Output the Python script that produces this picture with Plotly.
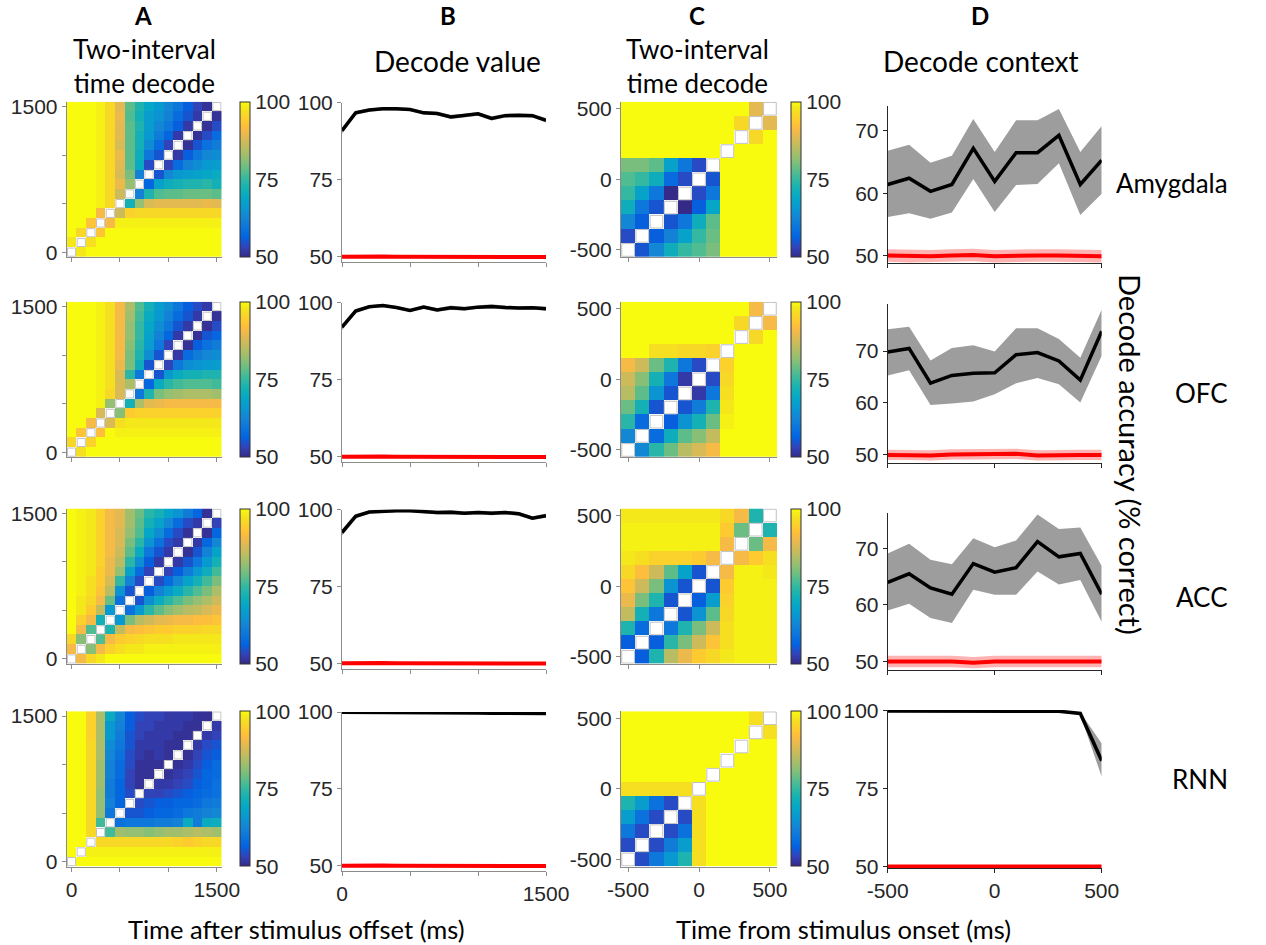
import plotly.graph_objects as go

N = None
W, H = 1266, 945

# ---------------- data ----------------
tA = [0, 100, 200, 300, 400, 500, 600, 700, 800, 900, 1000, 1100, 1200, 1300, 1400, 1500]
tC = [-500, -400, -300, -200, -100, 0, 100, 200, 300, 400, 500]

# Panel A: two-interval time decode after stimulus offset (rows = y time bin from 0 upward)
A_amyg = [
    [N, 98, 100, 100, 100, 100, 100, 100, 100, 100, 100, 100, 100, 100, 100, 100],
    [98, N, 97, 100, 100, 100, 100, 100, 100, 100, 100, 100, 100, 100, 100, 100],
    [100, 96, N, 93, 100, 100, 100, 100, 100, 100, 100, 100, 100, 100, 100, 100],
    [100, 100, 93, N, 91, 99, 99, 99, 99, 99, 99, 99, 99, 99, 99, 99],
    [100, 100, 100, 91, N, 87, 95, 96, 96, 96, 96, 96, 96, 96, 96, 96],
    [100, 100, 100, 99, 96, N, 72, 82, 88, 89, 89, 89, 89, 89, 90, 89],
    [100, 100, 100, 99, 96, 87, N, 62, 73, 77, 78, 78, 79, 79, 79, 78],
    [100, 100, 100, 99, 96, 90, 82, N, 57, 68, 71, 72, 73, 73, 74, 72],
    [100, 100, 100, 99, 96, 88, 80, 62, N, 55, 63, 66, 67, 68, 69, 70],
    [100, 100, 100, 99, 96, 89, 78, 70, 54, N, 53, 58, 62, 64, 66, 67],
    [100, 100, 100, 99, 96, 90, 78, 71, 60, 55, N, 52, 56, 60, 63, 64],
    [100, 100, 100, 99, 96, 88, 78, 72, 64, 58, 53, N, 51, 55, 59, 61],
    [100, 100, 100, 99, 96, 89, 78, 72, 66, 61, 57, 52, N, 51, 54, 58],
    [100, 100, 100, 99, 96, 89, 78, 73, 67, 63, 60, 56, 52, N, 51, 54],
    [100, 100, 100, 99, 96, 90, 77, 72, 67, 65, 62, 58, 55, 52, N, 51],
    [100, 100, 100, 99, 96, 89, 78, 73, 69, 66, 63, 60, 56, 53, 51, N],
]
A_ofc = [
    [N, 97, 100, 100, 100, 100, 100, 100, 100, 100, 100, 100, 100, 100, 100, 100],
    [96, N, 95, 100, 100, 100, 100, 100, 100, 100, 100, 100, 100, 100, 100, 100],
    [100, 93, N, 92, 100, 99, 99, 99, 99, 99, 99, 99, 99, 99, 99, 99],
    [100, 100, 91, N, 88, 97, 98, 98, 98, 98, 98, 98, 98, 98, 98, 98],
    [100, 100, 100, 88, N, 81, 94, 95, 95, 95, 95, 95, 95, 95, 95, 95],
    [100, 100, 100, 99, 82, N, 72, 84, 89, 90, 91, 91, 91, 91, 91, 91],
    [100, 100, 100, 99, 96, 88, N, 60, 73, 80, 82, 83, 84, 84, 84, 83],
    [100, 100, 100, 99, 97, 88, 84, N, 57, 70, 74, 76, 77, 77, 77, 76],
    [100, 100, 100, 99, 97, 88, 74, 60, N, 55, 66, 70, 72, 72, 73, 73],
    [100, 100, 100, 99, 97, 90, 80, 71, 55, N, 53, 60, 64, 65, 66, 67],
    [100, 100, 100, 99, 97, 91, 80, 73, 64, 55, N, 52, 58, 61, 63, 64],
    [100, 100, 100, 99, 97, 91, 81, 74, 67, 60, 53, N, 51, 56, 59, 61],
    [100, 100, 100, 99, 97, 91, 82, 75, 68, 62, 57, 52, N, 51, 55, 57],
    [100, 100, 100, 99, 97, 91, 82, 75, 69, 64, 60, 55, 52, N, 51, 54],
    [100, 100, 100, 99, 97, 91, 83, 76, 70, 66, 62, 58, 55, 52, N, 51],
    [100, 100, 100, 99, 97, 91, 84, 77, 72, 67, 64, 60, 56, 54, 52, N],
]
A_acc = [
    [N, 91, 96, 98, 100, 100, 100, 100, 100, 100, 100, 100, 100, 100, 100, 100],
    [91, N, 81, 91, 95, 97, 98, 98, 99, 99, 99, 99, 99, 99, 99, 99],
    [96, 81, N, 77, 91, 94, 95, 96, 97, 97, 97, 98, 98, 98, 98, 98],
    [100, 91, 77, N, 73, 86, 91, 92, 93, 94, 94, 95, 95, 95, 96, 96],
    [100, 95, 91, 72, N, 66, 80, 85, 87, 89, 90, 91, 91, 92, 92, 93],
    [100, 98, 94, 86, 66, N, 59, 66, 74, 78, 81, 83, 85, 86, 88, 90],
    [100, 98, 96, 91, 79, 59, N, 55, 64, 70, 74, 77, 80, 82, 84, 87],
    [100, 99, 97, 93, 85, 65, 55, N, 56, 62, 66, 70, 74, 77, 80, 84],
    [100, 99, 97, 94, 88, 75, 62, 54, N, 54, 58, 63, 68, 72, 76, 80],
    [100, 99, 98, 94, 90, 82, 68, 58, 53, N, 53, 56, 61, 66, 71, 76],
    [100, 99, 98, 95, 90, 85, 74, 64, 56, 52, N, 52, 55, 60, 66, 72],
    [100, 99, 98, 95, 91, 87, 78, 70, 60, 55, 52, N, 51, 55, 62, 68],
    [100, 99, 98, 95, 91, 88, 80, 74, 65, 59, 54, 52, N, 52, 57, 63],
    [100, 99, 98, 95, 91, 88, 82, 77, 69, 64, 58, 54, 51, N, 51, 57],
    [100, 99, 98, 95, 91, 89, 83, 78, 72, 68, 63, 58, 54, 52, N, 53],
    [100, 99, 98, 95, 91, 89, 83, 79, 74, 72, 68, 65, 61, 57, 51, N],
]
A_rnn = [
    [N, 100, 100, 100, 100, 100, 100, 100, 100, 100, 100, 100, 100, 100, 100, 100],
    [100, N, 99, 99, 99, 99, 99, 99, 99, 99, 99, 99, 99, 99, 99, 99],
    [100, 100, N, 96, 96, 96, 96, 96, 96, 96, 96, 95, 94, 95, 96, 96],
    [100, 100, 96, N, 76, 83, 82, 82, 81, 82, 83, 83, 84, 85, 84, 83],
    [100, 100, 96, 76, N, 59, 60, 60, 60, 61, 61, 62, 70, 61, 70, 71],
    [100, 100, 96, 82, 60, N, 55, 55, 56, 57, 57, 58, 60, 61, 62, 63],
    [100, 100, 96, 82, 62, 57, N, 54, 55, 56, 56, 57, 57, 58, 60, 61],
    [100, 100, 96, 82, 61, 57, 54, N, 53, 53, 54, 55, 56, 57, 58, 59],
    [100, 100, 96, 83, 61, 57, 53, 51, N, 52, 52, 53, 54, 56, 57, 59],
    [100, 100, 96, 83, 62, 58, 53, 51, 51, N, 51, 52, 53, 55, 57, 58],
    [100, 100, 96, 83, 62, 58, 54, 51, 51, 51, N, 51, 52, 54, 56, 58],
    [100, 100, 96, 84, 63, 59, 54, 52, 51, 52, 51, N, 51, 53, 55, 56],
    [100, 100, 96, 84, 64, 60, 55, 52, 52, 52, 51, 51, N, 52, 54, 55],
    [100, 100, 95, 84, 66, 61, 55, 53, 52, 52, 52, 51, 51, N, 52, 53],
    [100, 100, 95, 84, 66, 62, 56, 53, 53, 52, 52, 52, 51, 51, N, 52],
    [100, 100, 95, 84, 70, 63, 56, 54, 53, 53, 52, 52, 52, 51, 51, N],
]

# Panel C: two-interval time decode around stimulus onset
C_amyg = [
    [N, 55, 63, 71, 75, 77, 80, 100, 100, 100, 100],
    [54, N, 56, 62, 68, 75, 79, 100, 100, 100, 100],
    [63, 56, N, 55, 60, 71, 78, 100, 100, 100, 100],
    [71, 60, 55, N, 50, 56, 69, 100, 100, 100, 100],
    [75, 68, 60, 50, N, 54, 60, 100, 100, 100, 100],
    [77, 75, 71, 58, 54, N, 55, 100, 100, 100, 100],
    [80, 80, 78, 68, 60, 54, N, 100, 100, 100, 100],
    [100, 100, 100, 100, 100, 100, 100, N, 100, 100, 100],
    [100, 100, 100, 100, 100, 100, 100, 100, N, 96, 100],
    [100, 100, 100, 100, 100, 100, 100, 100, 96, N, 89],
    [100, 100, 100, 100, 100, 100, 100, 100, 100, 89, N],
]
C_ofc = [
    [N, 63, 74, 79, 85, 88, 91, 100, 100, 100, 100],
    [63, N, 58, 71, 78, 81, 86, 100, 100, 100, 100],
    [74, 58, N, 56, 65, 72, 79, 99, 100, 100, 100],
    [79, 72, 55, N, 55, 61, 73, 98, 100, 100, 100],
    [85, 78, 65, 55, N, 52, 60, 97, 100, 100, 100],
    [87, 81, 72, 60, 52, N, 54, 96, 100, 100, 100],
    [91, 87, 79, 73, 60, 54, N, 95, 100, 100, 100],
    [100, 100, 97, 97, 96, 96, 95, N, 100, 100, 100],
    [100, 100, 100, 100, 100, 100, 100, 100, N, 96, 100],
    [100, 100, 100, 100, 100, 100, 100, 100, 96, N, 91],
    [100, 100, 100, 100, 100, 100, 100, 100, 100, 91, N],
]
C_acc = [
    [N, 56, 73, 85, 90, 94, 96, 98, 99, 99, 99],
    [56, N, 56, 74, 80, 87, 93, 97, 99, 99, 99],
    [73, 58, N, 60, 73, 80, 87, 97, 99, 99, 99],
    [86, 72, 60, N, 55, 65, 78, 96, 99, 99, 99],
    [90, 80, 73, 55, N, 56, 67, 95, 99, 99, 99],
    [93, 87, 80, 65, 55, N, 55, 94, 99, 99, 99],
    [96, 92, 87, 78, 68, 55, N, 91, 99, 99, 98],
    [98, 97, 95, 95, 95, 94, 91, N, 91, 94, 97],
    [99, 99, 99, 99, 99, 99, 99, 91, N, 79, 91],
    [99, 99, 99, 99, 99, 99, 99, 94, 79, N, 73],
    [98, 98, 98, 98, 98, 98, 98, 96, 91, 73, N],
]
C_rnn = [
    [N, 54, 60, 66, 73, 97, 100, 100, 100, 100, 100],
    [54, N, 54, 61, 67, 97, 100, 100, 100, 100, 100],
    [60, 54, N, 54, 59, 97, 100, 100, 100, 100, 100],
    [67, 59, 54, N, 54, 97, 100, 100, 100, 100, 100],
    [73, 67, 59, 54, N, 97, 100, 100, 100, 100, 100],
    [97, 97, 97, 97, 97, N, 100, 100, 100, 100, 100],
    [100, 100, 100, 100, 100, 100, N, 100, 100, 100, 100],
    [100, 100, 100, 100, 100, 100, 100, N, 100, 100, 100],
    [100, 100, 100, 100, 100, 100, 100, 100, N, 100, 100],
    [100, 100, 100, 100, 100, 100, 100, 100, 100, N, 97],
    [100, 100, 100, 100, 100, 100, 100, 100, 100, 97, N],
]

# Panel B: decode value (mean, sem) and shuffled control
B_amyg = [90.9, 96.7, 97.6, 98.0, 98.0, 97.8, 96.7, 96.5, 95.4, 95.8, 96.4, 94.9, 95.8, 95.9, 95.8, 94.3]
B_ofc = [92.0, 97.2, 98.6, 99.0, 98.4, 97.4, 98.5, 97.6, 98.3, 98.0, 98.5, 98.7, 98.4, 98.2, 98.3, 98.0]
B_acc = [92.5, 97.8, 99.2, 99.5, 99.6, 99.6, 99.4, 99.0, 99.1, 98.8, 99.0, 98.8, 99.0, 98.6, 97.2, 98.0]
B_rnn = [99.9, 99.9, 99.8, 99.8, 99.8, 99.8, 99.8, 99.7, 99.7, 99.7, 99.7, 99.6, 99.6, 99.6, 99.5, 99.5]
B_sem = [1.0, 0.7, 0.5, 0.5, 0.5, 0.5, 0.6, 0.6, 0.7, 0.6, 0.6, 0.7, 0.6, 0.6, 0.6, 0.7]
B_rnn_sem = [0.3, 0.3, 0.3, 0.3, 0.3, 0.3, 0.3, 0.3, 0.3, 0.3, 0.3, 0.3, 0.3, 0.3, 0.3, 0.3]
B_ctrl = [50.0, 50.1, 50.2, 50.1, 50.0, 50.0, 49.9, 50.0, 50.1, 50.0, 50.0, 50.1, 50.0, 50.0, 50.0, 49.9]
B_ctrl_sem = [0.4, 0.4, 0.4, 0.4, 0.4, 0.4, 0.4, 0.4, 0.4, 0.4, 0.4, 0.4, 0.4, 0.4, 0.4, 0.4]

# Panel D: decode context (mean with upper / lower band) and shuffled control
D_amyg = [61.4, 62.4, 60.3, 61.4, 67.2, 61.9, 66.5, 66.5, 69.3, 61.4, 65.3]
D_amyg_hi = [66.8, 67.8, 64.9, 66.0, 71.9, 66.6, 71.7, 71.7, 73.5, 66.6, 70.8]
D_amyg_lo = [56.2, 56.8, 55.9, 56.9, 62.3, 57.0, 61.3, 61.5, 64.8, 56.5, 59.9]
D_ofc = [69.8, 70.5, 63.8, 65.3, 65.7, 65.8, 69.3, 69.7, 68.1, 64.4, 73.8]
D_ofc_hi = [74.2, 74.7, 68.2, 70.6, 71.1, 69.9, 74.4, 74.4, 72.3, 68.7, 78.0]
D_ofc_lo = [65.3, 66.3, 59.6, 59.9, 60.3, 61.7, 63.8, 64.8, 63.6, 60.1, 69.1]
D_acc = [64.0, 65.5, 63.0, 61.9, 67.3, 65.8, 66.6, 71.2, 68.5, 69.1, 61.9]
D_acc_hi = [69.1, 70.8, 68.0, 67.2, 71.8, 70.2, 71.4, 76.0, 73.4, 73.7, 66.9]
D_acc_lo = [59.0, 60.2, 57.7, 56.8, 62.7, 61.8, 61.8, 65.9, 63.6, 64.4, 57.0]
D_rnn = [100.0, 100.0, 99.9, 99.9, 99.9, 99.9, 99.9, 99.9, 99.9, 99.2, 84.0]
D_rnn_hi = [100.2, 100.2, 100.1, 100.1, 100.1, 100.1, 100.1, 100.1, 100.2, 99.6, 89.5]
D_rnn_lo = [99.8, 99.8, 99.7, 99.7, 99.7, 99.7, 99.7, 99.7, 99.6, 98.8, 78.8]
D_amyg_ctrl = [50.0, 49.9, 49.9, 50.0, 50.1, 49.9, 50.0, 50.0, 50.0, 50.0, 49.9]
D_ofc_ctrl = [50.0, 50.0, 49.9, 50.1, 50.1, 50.1, 50.2, 49.9, 50.0, 50.0, 50.0]
D_acc_ctrl = [50.0, 50.0, 50.0, 50.0, 49.8, 50.0, 50.0, 50.0, 50.0, 50.0, 50.0]
D_rnn_ctrl = [50.0, 50.0, 50.1, 50.1, 50.0, 50.0, 50.0, 50.0, 50.0, 50.0, 50.0]
D_ctrl_sem = [1.0, 1.0, 1.0, 1.0, 1.0, 1.0, 1.0, 1.0, 1.0, 1.0, 1.0]
D_rnn_ctrl_sem = [0.4, 0.4, 0.4, 0.4, 0.4, 0.4, 0.4, 0.4, 0.4, 0.4, 0.4]

regions = ["Amygdala", "OFC", "ACC", "RNN"]
A_list = [A_amyg, A_ofc, A_acc, A_rnn]
C_list = [C_amyg, C_ofc, C_acc, C_rnn]
B_list = [(B_amyg, B_sem), (B_ofc, B_sem), (B_acc, B_sem), (B_rnn, B_rnn_sem)]
D_list = [(D_amyg, D_amyg_hi, D_amyg_lo, D_amyg_ctrl, D_ctrl_sem),
          (D_ofc, D_ofc_hi, D_ofc_lo, D_ofc_ctrl, D_ctrl_sem),
          (D_acc, D_acc_hi, D_acc_lo, D_acc_ctrl, D_ctrl_sem),
          (D_rnn, D_rnn_hi, D_rnn_lo, D_rnn_ctrl, D_rnn_ctrl_sem)]

# ---------------- style ----------------
parula_pts = [
    (0, (0.2081, 0.1663, 0.5292)), (4, (0.1959, 0.2645, 0.7279)), (8, (0.0117, 0.3875, 0.8820)),
    (12, (0.0498, 0.4586, 0.8641)), (16, (0.0793, 0.5200, 0.8312)), (20, (0.0343, 0.5966, 0.8199)),
    (24, (0.0228, 0.6535, 0.7768)), (28, (0.0843, 0.6928, 0.7062)), (32, (0.2178, 0.7250, 0.6193)),
    (36, (0.3953, 0.7459, 0.5244)), (40, (0.5709, 0.7485, 0.4494)), (44, (0.7184, 0.7411, 0.3905)),
    (48, (0.8507, 0.7299, 0.3360)), (51, (0.9450, 0.7261, 0.2886)), (53, (0.9938, 0.7455, 0.2403)),
    (55, (0.9955, 0.7861, 0.1967)), (57, (0.9789, 0.8271, 0.1633)), (59, (0.9626, 0.8705, 0.1309)),
    (61, (0.9598, 0.9218, 0.0948)), (63, (0.9763, 0.9831, 0.0538)),
]
parula = [[i / 63, "rgb(%d,%d,%d)" % tuple(round(v * 255) for v in c)] for i, c in parula_pts]

TICKFONT = dict(family="Liberation Sans, Arial, sans-serif", size=21, color="#262626")
LABFONT = "Lato, Open Sans, sans-serif"
GRAY = "#8c8c8c"
DARK = "#262626"


def fx(px):
    return px / W


def fy(py):
    return 1 - py / H


hm_top = [101.7, 301.7, 508.5, 711.2]
hm_h = 155.3
A_x = (66.7, 221.7)
C_x = (621.0, 777.0)
A_cb_x = 240.0
C_cb_x = 791.0
B_x = (342.0, 546.0)
B_box = [(102.7, 262.0), (302.5, 462.0), (509.5, 668.5), (712.0, 871.0)]
D_x = (887.7, 1101.7)
D_box = [(106.0, 263.0), (304.3, 462.7), (512.7, 670.0), (710.0, 868.0)]
D_rng = [(48.8, 74.0), (48.5, 79.0), (48.5, 76.3), (49.5, 100.3)]
D_tv = [[50, 60, 70], [50, 60, 70], [50, 60, 70], [50, 75, 100]]

fig = go.Figure()
layout = {}


def axis_common(color):
    return dict(showline=True, linecolor=color, linewidth=1, ticks="outside", ticklen=4,
                tickcolor=color, tickwidth=1, showgrid=False, zeroline=False,
                tickfont=TICKFONT, fixedrange=True, automargin=False)


def cbar(xpx, top):
    return dict(x=fx(xpx), xanchor="left", xpad=0, ypad=0,
                y=fy(top + hm_h / 2), yanchor="middle", len=hm_h / H,
                lenmode="fraction", thickness=10, thicknessmode="pixels",
                outlinewidth=1, outlinecolor="#333333",
                tickvals=[50, 75, 100], ticks="", tickfont=TICKFONT)


def diag_marks(z, t, xa, ya, cell):
    dx, dy = [], []
    for r, row in enumerate(z):
        for c, v in enumerate(row):
            if v is None:
                dx.append(t[c]); dy.append(t[r])
    return go.Scatter(x=dx, y=dy, mode="markers", xaxis=xa, yaxis=ya, hoverinfo="skip",
                      marker=dict(symbol="square", size=cell - 1.5, color="white",
                                  line=dict(color="#c0c0c0", width=1)), showlegend=False)


for i in range(4):
    last = (i == 3)
    top = hm_top[i]
    ydom = [fy(top + hm_h), fy(top)]
    # ---------- A heatmap ----------
    k = 4 * i + 1
    xa, ya = "x%d" % k, "y%d" % k
    fig.add_trace(go.Heatmap(z=A_list[i], x=tA, y=tA, zmin=50, zmax=100, colorscale=parula,
                             xaxis=xa, yaxis=ya, hoverinfo="skip", colorbar=cbar(A_cb_x, top)))
    fig.add_trace(diag_marks(A_list[i], tA, xa, ya, (A_x[1] - A_x[0]) / len(tA)))
    ax = axis_common(GRAY)
    ax.update(domain=[fx(A_x[0]), fx(A_x[1])], range=[-50, 1550], anchor=ya,
              tickvals=[0, 500, 1000, 1500], ticktext=["0", "", "", "1500"] if last else ["", "", "", ""])
    ay = axis_common(GRAY)
    ay.update(domain=ydom, range=[-50, 1550], anchor=xa,
              tickvals=[0, 500, 1000, 1500], ticktext=["0", "", "", "1500"])
    layout["xaxis%d" % k] = ax
    layout["yaxis%d" % k] = ay

    # ---------- B line ----------
    k = 4 * i + 2
    xa, ya = "x%d" % k, "y%d" % k
    mean, sem = B_list[i]
    up = [m + s for m, s in zip(mean, sem)]
    lo = [m - s for m, s in zip(mean, sem)]
    fig.add_trace(go.Scatter(x=tA + tA[::-1], y=up + lo[::-1], fill="toself", mode="lines",
                             line=dict(width=0), fillcolor="rgba(0,0,0,0.3)", xaxis=xa, yaxis=ya,
                             hoverinfo="skip", showlegend=False))
    cu = [m + s for m, s in zip(B_ctrl, B_ctrl_sem)]
    cl = [m - s for m, s in zip(B_ctrl, B_ctrl_sem)]
    fig.add_trace(go.Scatter(x=tA + tA[::-1], y=cu + cl[::-1], fill="toself", mode="lines",
                             line=dict(width=0), fillcolor="rgba(255,0,0,0.3)", xaxis=xa, yaxis=ya,
                             hoverinfo="skip", showlegend=False))
    fig.add_trace(go.Scatter(x=tA, y=B_ctrl, mode="lines", line=dict(color="#ff0000", width=4),
                             xaxis=xa, yaxis=ya, cliponaxis=False, hoverinfo="skip", showlegend=False))
    fig.add_trace(go.Scatter(x=tA, y=mean, mode="lines", line=dict(color="black", width=3.5),
                             xaxis=xa, yaxis=ya, cliponaxis=False, hoverinfo="skip", showlegend=False))
    bt, bb = B_box[i]
    ax = axis_common(GRAY)
    ax.update(domain=[fx(B_x[0]), fx(B_x[1])], range=[0, 1500], anchor=ya,
              tickvals=[0, 500, 1000, 1500], ticktext=["0", "", "", "1500"] if last else ["", "", "", ""])
    ay = axis_common(GRAY)
    ay.update(domain=[fy(bb), fy(bt)], range=[48.3, 100], anchor=xa, tickvals=[50, 75, 100])
    layout["xaxis%d" % k] = ax
    layout["yaxis%d" % k] = ay

    # ---------- C heatmap ----------
    k = 4 * i + 3
    xa, ya = "x%d" % k, "y%d" % k
    fig.add_trace(go.Heatmap(z=C_list[i], x=tC, y=tC, zmin=50, zmax=100, colorscale=parula,
                             xaxis=xa, yaxis=ya, hoverinfo="skip", colorbar=cbar(C_cb_x, top)))
    fig.add_trace(diag_marks(C_list[i], tC, xa, ya, (C_x[1] - C_x[0]) / len(tC)))
    ax = axis_common(GRAY)
    ax.update(domain=[fx(C_x[0]), fx(C_x[1])], range=[-550, 550], anchor=ya,
              tickvals=[-500, 0, 500], ticktext=["-500", "0", "500"] if last else ["", "", ""])
    ay = axis_common(GRAY)
    ay.update(domain=ydom, range=[-550, 550], anchor=xa,
              tickvals=[-500, 0, 500], ticktext=["-500", "0", "500"])
    layout["xaxis%d" % k] = ax
    layout["yaxis%d" % k] = ay

    # ---------- D line ----------
    k = 4 * i + 4
    xa, ya = "x%d" % k, "y%d" % k
    mean, hi, lo, ctrl, csem = D_list[i]
    fig.add_trace(go.Scatter(x=tC + tC[::-1], y=hi + lo[::-1], fill="toself", mode="lines",
                             line=dict(width=0), fillcolor="#9d9d9d", xaxis=xa, yaxis=ya,
                             hoverinfo="skip", showlegend=False))
    cu = [m + s for m, s in zip(ctrl, csem)]
    cl = [m - s for m, s in zip(ctrl, csem)]
    fig.add_trace(go.Scatter(x=tC + tC[::-1], y=cu + cl[::-1], fill="toself", mode="lines",
                             line=dict(width=0), fillcolor="rgba(255,0,0,0.3)", xaxis=xa, yaxis=ya,
                             hoverinfo="skip", showlegend=False))
    fig.add_trace(go.Scatter(x=tC, y=ctrl, mode="lines", line=dict(color="#ff0000", width=4),
                             xaxis=xa, yaxis=ya, cliponaxis=False, hoverinfo="skip", showlegend=False))
    fig.add_trace(go.Scatter(x=tC, y=mean, mode="lines", line=dict(color="black", width=3.5),
                             xaxis=xa, yaxis=ya, cliponaxis=False, hoverinfo="skip", showlegend=False))
    dt, db = D_box[i]
    ax = axis_common(DARK)
    ax.update(domain=[fx(D_x[0]), fx(D_x[1])], range=[-500, 500], anchor=ya,
              tickvals=[-500, 0, 500], ticktext=["-500", "0", "500"] if last else ["", "", ""])
    ay = axis_common(DARK)
    ay.update(domain=[fy(db), fy(dt)], range=list(D_rng[i]), anchor=xa, tickvals=D_tv[i])
    layout["xaxis%d" % k] = ax
    layout["yaxis%d" % k] = ay

# ---------------- text ----------------
ann = []


def txt(s, x, y, size, bold=False, angle=0, xanchor="center"):
    ann.append(dict(text=("<b>%s</b>" % s) if bold else s, x=fx(x), y=fy(y), xref="paper", yref="paper",
                    xanchor=xanchor, yanchor="middle", showarrow=False, textangle=angle,
                    font=dict(family=LABFONT, size=size, color="black")))


txt("A", 143, 16, 24, bold=True)
txt("Two-interval<br>time decode", 144, 66, 26)
txt("B", 448, 16, 24, bold=True)
txt("Decode value", 457, 61, 28)
txt("C", 697, 16, 24, bold=True)
txt("Two-interval<br>time decode", 697, 66, 26)
txt("D", 980, 16, 24, bold=True)
txt("Decode context", 980, 61, 28)
for name, yy in zip(regions, [183, 393, 597, 779]):
    txt(name, 1230, yy, 26, xanchor="right")
txt("Decode accuracy (% correct)", 1131, 454, 29, angle=90)
txt("Time after stimulus offset (ms)", 296, 929, 25.5)
txt("Time from stimulus onset (ms)", 843, 929, 25.5)

fig.update_layout(width=W, height=H, margin=dict(l=0, r=0, t=0, b=0, pad=0, autoexpand=False),
                  paper_bgcolor="white", plot_bgcolor="white", showlegend=False,
                  annotations=ann, **layout)

fig.write_html("out.html", config={"displayModeBar": False})
